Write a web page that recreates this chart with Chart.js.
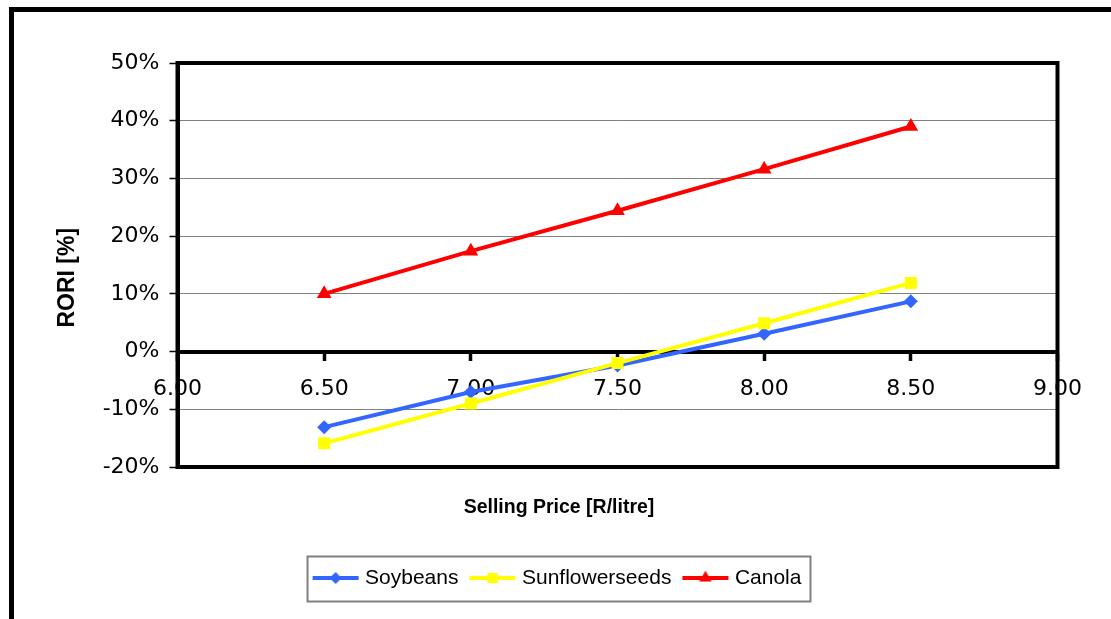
<!DOCTYPE html>
<html>
<head>
<meta charset="utf-8">
<script src="https://cdn.jsdelivr.net/npm/chart.js@4.4.1/dist/chart.umd.min.js"></script>
<style>
  html, body { margin: 0; padding: 0; background: #fff; }
  body { width: 1111px; height: 619px; position: relative; overflow: hidden; }
  #marco { position: absolute; left: 9px; top: 7px; width: 1200px; height: 700px; border-top: 5px solid #000; border-left: 5px solid #000; }
  #grafico { position: absolute; left: 0; top: 0; }
</style>
</head>
<body>
<div id="marco"></div>
<canvas id="grafico" width="1111" height="619"></canvas>
<script>
// Precio de venta [R/litre] y RORI [%] por cultivo
const precios = [6.5, 7.0, 7.5, 8.0, 8.5];
const soybeans = [-13.1, -7.0, -2.4, 3.1, 8.7];
const sunflowerseeds = [-15.9, -9.0, -2.0, 4.9, 11.9];
const canola = [10.0, 17.4, 24.4, 31.6, 39.0];

const rangoX = [6, 9];
const pasoX = 0.5;
const rangoY = [-20, 50];
const pasoY = 10;

const fuenteTicks = { family: "'DejaVu Sans', sans-serif", size: 22 };
const fuenteTexto = "'Liberation Sans', Arial, sans-serif";

const series = [
    { label: "Soybeans", valores: soybeans, color: "#3366FF", marcador: "rectRot", radio: 7, orden: 3 },
    { label: "Sunflowerseeds", valores: sunflowerseeds, color: "#FFFF00", marcador: "rect", radio: 8.5, orden: 2 },
    { label: "Canola", valores: canola, color: "#FF0000", marcador: "triangle", radio: 8.5, orden: 1 }
];

const puntos = valores => precios.map((x, i) => ({ x: x, y: valores[i] }));

// icono de leyenda: linea con el marcador en el centro
function iconoLeyenda(serie) {
    const c = document.createElement("canvas");
    c.width = 48;
    c.height = 18;
    const ctx = c.getContext("2d");
    ctx.strokeStyle = serie.color;
    ctx.lineWidth = 4;
    ctx.beginPath();
    ctx.moveTo(1, 9);
    ctx.lineTo(47, 9);
    ctx.stroke();
    ctx.fillStyle = serie.color;
    ctx.strokeStyle = serie.color;
    Chart.helpers.drawPoint(ctx, { pointStyle: serie.marcador, radius: serie.radio * 0.85, borderWidth: 0, rotation: 0 }, 24, 9);
    return c;
}
const iconos = series.map(iconoLeyenda);

const marcoGrafico = {
    id: "marcoGrafico",
    beforeDatasetsDraw(chart) {
        const { ctx, chartArea: a } = chart;
        ctx.save();
        ctx.strokeStyle = "#000";
        ctx.lineWidth = 4;
        ctx.strokeRect(a.left, a.top, a.right - a.left, a.bottom - a.top);
        ctx.restore();
    }
};

const marcoLeyenda = {
    id: "marcoLeyenda",
    afterDraw(chart) {
        const cajas = chart.legend && chart.legend.legendHitBoxes;
        if (!cajas || !cajas.length) return;
        const ultima = cajas[cajas.length - 1];
        const izq = cajas[0].left - 10;
        const der = ultima.left + ultima.width + 8;
        const centro = cajas[0].top + cajas[0].height / 2;
        const ctx = chart.ctx;
        ctx.save();
        ctx.strokeStyle = "#808080";
        ctx.lineWidth = 2;
        ctx.strokeRect(Math.round(izq) + 0.5, Math.round(centro - 22) + 0.5, Math.round(der - izq), 45);
        ctx.restore();
    }
};

const ctx = document.getElementById("grafico").getContext("2d");
new Chart(ctx, {
    type: "line",
    data: {
        datasets: series.map(s => ({
            label: s.label,
            data: puntos(s.valores),
            borderColor: s.color,
            backgroundColor: s.color,
            borderWidth: 4,
            pointStyle: s.marcador,
            pointRadius: s.radio,
            pointHoverRadius: s.radio,
            pointBorderWidth: 0,
            pointBackgroundColor: s.color,
            tension: 0,
            order: s.orden
        }))
    },
    options: {
        responsive: false,
        devicePixelRatio: 1,
        animation: false,
        events: [],
        layout: { padding: { top: 63, left: 60.5, right: 53.5, bottom: 20.5 } },
        plugins: {
            tooltip: { enabled: false },
            legend: {
                position: "bottom",
                labels: {
                    usePointStyle: true,
                    pointStyleWidth: 38,
                    padding: 15,
                    color: "#000",
                    font: { family: fuenteTexto, size: 21 },
                    sort: (a, b) => a.datasetIndex - b.datasetIndex,
                    generateLabels(chart) {
                        const items = Chart.defaults.plugins.legend.labels.generateLabels(chart);
                        items.forEach(item => { item.pointStyle = iconos[item.datasetIndex]; });
                        return items;
                    }
                }
            }
        },
        scales: {
            x: {
                type: "linear",
                min: rangoX[0],
                max: rangoX[1],
                position: { y: 0 },
                ticks: {
                    stepSize: pasoX,
                    callback: v => Number(v).toFixed(2),
                    padding: 18,
                    color: "#000",
                    font: fuenteTicks,
                    maxRotation: 0,
                    autoSkip: false
                },
                grid: { display: true, drawOnChartArea: false, drawTicks: true, tickLength: 7, tickWidth: 3.5, tickColor: "#000" },
                border: { display: true, color: "#000", width: 4 },
                afterFit(scale) { scale.height = 0; }
            },
            // eje solo para el titulo, centrado en todo el ancho como la leyenda
            x2: {
                type: "linear",
                min: rangoX[0],
                max: rangoX[1],
                position: "bottom",
                fullSize: true,
                ticks: { display: false },
                grid: { display: false, drawTicks: false },
                border: { display: false },
                title: {
                    display: true,
                    text: "Selling Price [R/litre]",
                    color: "#000",
                    font: { family: fuenteTexto, size: 19.5, weight: "bold", lineHeight: 1.2 },
                    padding: { top: 29.3, bottom: 32.8 }
                }
            },
            y: {
                min: rangoY[0],
                max: rangoY[1],
                ticks: {
                    stepSize: pasoY,
                    callback: v => v + "%",
                    padding: 10,
                    color: "#000",
                    font: fuenteTicks
                },
                grid: { color: "#808080", lineWidth: 1, tickLength: 8, tickColor: "#000", tickWidth: 1.5 },
                border: { color: "#000", width: 4 },
                title: {
                    display: true,
                    text: "RORI [%]    ",
                    color: "#000",
                    font: { family: fuenteTexto, size: 23, weight: "bold", lineHeight: 0.6 },
                    padding: 0
                },
                afterFit(scale) { scale.width = 117; }
            }
        }
    },
    plugins: [marcoGrafico, marcoLeyenda]
});
</script>
</body>
</html>
